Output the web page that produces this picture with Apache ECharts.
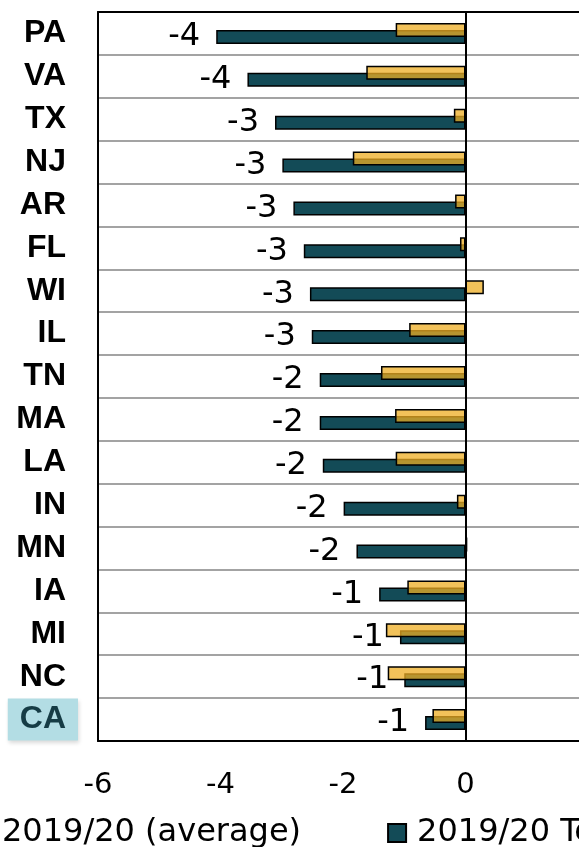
<!DOCTYPE html>
<html>
<head>
<meta charset="utf-8">
<script src="https://cdn.jsdelivr.net/npm/echarts@6/dist/echarts.min.js"></script>
<style>
  html, body { margin: 0; padding: 0; background: #fff; overflow: hidden; }
  #chart { width: 579px; height: 847px; }
</style>
</head>
<body>
<div id="chart"></div>
<script>
const states = ['PA', 'VA', 'TX', 'NJ', 'AR', 'FL', 'WI', 'IL', 'TN', 'MA', 'LA', 'IN', 'MN', 'IA', 'MI', 'NC', 'CA']
const averageVals = [-1.14, -1.62, -0.19, -1.84, -0.17, -0.09, 0.30, -0.92, -1.38, -1.15, -1.14, -0.14, 0.03, -0.95, -1.30, -1.27, -0.54]
const totalVals = [-4.07, -3.56, -3.11, -2.99, -2.81, -2.64, -2.54, -2.51, -2.38, -2.38, -2.33, -1.99, -1.78, -1.41, -1.07, -1.00, -0.66]
const seriesNames = ['2019/20 (average)', '2019/20 Total']
const highlightState = 'CA'

const TEAL = '#134b57'
const GOLD = 'rgba(238,174,35,0.75)'
const NUM_FONT = '"DejaVu Sans", Verdana, sans-serif'
const CAT_FONT = '"Liberation Sans Narrow", "Liberation Sans", Arial, sans-serif'

const frameLine = { show: true, onZero: false, lineStyle: { color: '#000', width: 2 } }

const chart = echarts.init(document.getElementById('chart'))

chart.setOption({
  animation: false,
  grid: {
    left: 98,
    top: 12,
    width: 490,
    height: 729,
    outerBoundsMode: 'none',
  },
  legend: {
    data: seriesNames,
    left: -33,
    top: 812,
    width: 2000,
    icon: 'rect',
    itemWidth: 18,
    itemHeight: 18,
    itemGap: 86,
    textStyle: { fontFamily: NUM_FONT, fontSize: 32, color: '#000', padding: [0, 0, 0, 6] },
  },
  xAxis: [
    {
      type: 'value',
      min: -6,
      max: 2,
      interval: 2,
      z: 3,
      axisLine: frameLine,
      axisTick: { show: false },
      splitLine: { show: false },
      axisLabel: { fontFamily: NUM_FONT, fontSize: 29, color: '#000', margin: 30 },
    },
    {
      type: 'value',
      position: 'top',
      min: -6,
      max: 2,
      interval: 2,
      z: 3,
      axisLine: frameLine,
      axisTick: { show: false },
      axisLabel: { show: false },
      splitLine: { show: false },
    },
  ],
  yAxis: {
    type: 'category',
    data: states,
    inverse: true,
    z: 3,
    axisLine: frameLine,
    axisTick: { show: false },
    splitLine: { show: true, interval: 0, lineStyle: { color: '#a3a3a3', width: 2 } },
    axisLabel: {
      interval: 0,
      margin: 20,
      fontSize: 32,
      formatter: (v) => (v === highlightState ? `{hl|${v}}` : `{n|${v}}`),
      rich: {
        n: {
          fontFamily: CAT_FONT, fontSize: 32, fontWeight: 'bold', color: '#000',
          padding: [0, 12, 0, 0],
        },
        hl: {
          fontFamily: CAT_FONT, fontSize: 32, fontWeight: 'bold', color: '#163c45',
          backgroundColor: '#b3dde4', lineHeight: 33,
          padding: [5, 12, 5, 12],
          shadowColor: 'rgba(0,0,0,0.15)', shadowBlur: 4, shadowOffsetX: 1, shadowOffsetY: 2,
        },
      },
    },
  },
  series: [
    {
      name: seriesNames[0],
      type: 'bar',
      data: averageVals,
      barWidth: 14,
      barGap: '-50%',
      z: 3,
      itemStyle: { color: GOLD, borderColor: '#000', borderWidth: 1.5 },
    },
    {
      name: seriesNames[1],
      type: 'bar',
      data: totalVals,
      barWidth: 14,
      z: 2,
      itemStyle: { color: TEAL, borderColor: '#000', borderWidth: 1.5 },
      label: {
        show: true,
        position: 'left',
        distance: 16,
        fontFamily: NUM_FONT,
        fontSize: 32,
        color: '#000',
        formatter: (p) => String(Math.round(p.value)),
      },
      markLine: {
        silent: true,
        symbol: 'none',
        label: { show: false },
        lineStyle: { color: '#000', width: 2, type: 'solid' },
        data: [{ xAxis: 0 }],
      },
    },
  ],
})
</script>
</body>
</html>
